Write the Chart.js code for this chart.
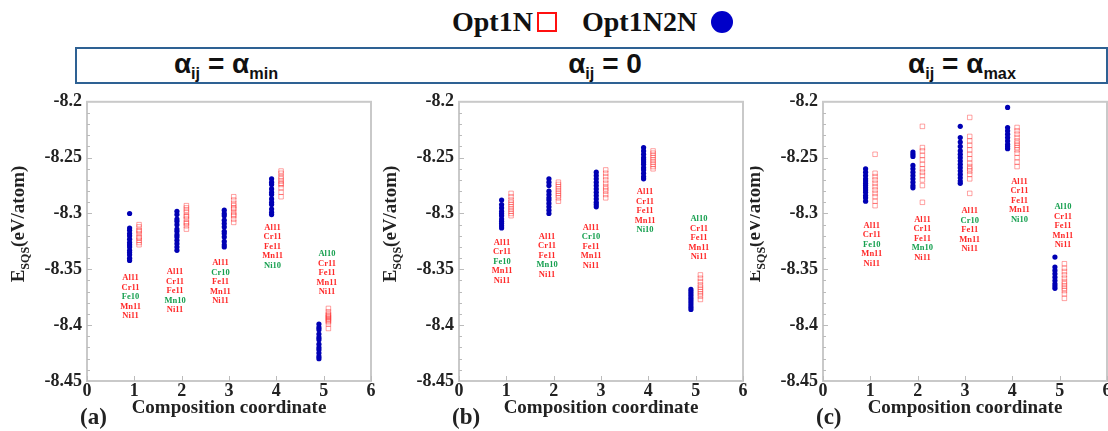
<!DOCTYPE html>
<html>
<head>
<meta charset="utf-8">
<title>E_SQS vs composition coordinate</title>
<script src="https://cdn.jsdelivr.net/npm/chart.js@4.4.0/dist/chart.umd.min.js"></script>
<style>
  body { margin: 0; width: 1108px; height: 431px; background: #fff; position: relative; overflow: hidden; }
  .leg { position: absolute; top: 6px; font: bold 28px "Liberation Serif", serif; line-height: 32px; color: #111; white-space: nowrap; }
  .leg-square { position: absolute; left: 537px; top: 12px; width: 16px; height: 16px; border: 2.5px solid #ff1010; }
  .leg-dot { position: absolute; left: 711px; top: 11px; width: 22px; height: 22px; border-radius: 50%; background: #0000c8; }
  .bar { position: absolute; left: 75px; top: 47px; width: 1029px; height: 33px; border: 2px solid #2e6193; }
  .htitle { position: absolute; top: 49px; transform: translateX(-50%); font: bold 28px "Liberation Sans", sans-serif; line-height: 30px; color: #111; white-space: nowrap; }
  .htitle sub { font-size: 0.58em; vertical-align: -0.34em; }
  .panel { position: absolute; top: 86px; height: 345px; }
</style>
</head>
<body>
<div class="leg" style="left:452px">Opt1N</div>
<div class="leg-square"></div>
<div class="leg" style="left:582px">Opt1N2N</div>
<div class="leg-dot"></div>
<div class="bar"></div>
<div class="htitle" style="left:226px">α<sub>ij</sub> = α<sub>min</sub></div>
<div class="htitle" style="left:605px">α<sub>ij</sub> = 0</div>
<div class="htitle" style="left:962px">α<sub>ij</sub> = α<sub>max</sub></div>

<div class="panel" style="left:0px;width:380px"><canvas id="panelA" width="380" height="345"></canvas></div>
<div class="panel" style="left:380px;width:370px"><canvas id="panelB" width="370" height="345"></canvas></div>
<div class="panel" style="left:750px;width:362px"><canvas id="panelC" width="362" height="345"></canvas></div>

<script>
// composition coordinates and axis ticks
const compositions = [1, 2, 3, 4, 5];
const yTickValues = [-8.45, -8.4, -8.35, -8.3, -8.25, -8.2];
const yTickLabels = ['-8.45', '-8.4', '-8.35', '-8.3', '-8.25', '-8.2'];
const xTickValues = [0, 1, 2, 3, 4, 5, 6];

// Opt1N2N points sit just left of each composition, Opt1N just right
const opt1N2NShift = -0.1;
const opt1NShift = 0.1;

// composition labels: element names, which one has 10 atoms per composition
const elements = ['Al', 'Cr', 'Fe', 'Mn', 'Ni'];
const reducedElement = [2, 3, 1, 4, 0];

// alpha_ij = alpha_min
const minOpt1N2N = [
  [-8.300, -8.313, -8.315, -8.318, -8.320, -8.323, -8.326, -8.328, -8.330, -8.333, -8.335, -8.337, -8.340, -8.342],
  [-8.298, -8.301, -8.305, -8.307, -8.310, -8.314, -8.316, -8.319, -8.321, -8.324, -8.327, -8.330, -8.333],
  [-8.297, -8.300, -8.302, -8.306, -8.309, -8.312, -8.316, -8.318, -8.321, -8.325, -8.328, -8.330],
  [-8.269, -8.272, -8.274, -8.278, -8.281, -8.283, -8.287, -8.290, -8.292, -8.296, -8.299, -8.301],
  [-8.399, -8.402, -8.404, -8.408, -8.411, -8.413, -8.417, -8.420, -8.422, -8.425, -8.428, -8.430]
];
const minOpt1N = [
  [-8.310, -8.312, -8.315, -8.316, -8.318, -8.321, -8.322, -8.324, -8.326, -8.328],
  [-8.293, -8.295, -8.297, -8.299, -8.302, -8.303, -8.305, -8.308, -8.309, -8.311, -8.314],
  [-8.285, -8.288, -8.291, -8.293, -8.295, -8.296, -8.299, -8.301, -8.302, -8.305, -8.308],
  [-8.262, -8.264, -8.267, -8.269, -8.271, -8.273, -8.274, -8.277, -8.281, -8.285],
  [-8.385, -8.388, -8.390, -8.391, -8.392, -8.393, -8.394, -8.395, -8.396, -8.397, -8.399, -8.403]
];
const minLabelX = [0.92, 1.86, 2.82, 3.92, 5.07];
const minLabelTop = [-8.3576, -8.3523, -8.3444, -8.3127, -8.3364];

// alpha_ij = 0
const zeroOpt1N2N = [
  [-8.288, -8.292, -8.295, -8.298, -8.300, -8.302, -8.305, -8.307, -8.309, -8.311, -8.313],
  [-8.269, -8.272, -8.275, -8.280, -8.283, -8.286, -8.288, -8.291, -8.294, -8.297, -8.300],
  [-8.263, -8.266, -8.269, -8.272, -8.275, -8.278, -8.281, -8.284, -8.287, -8.290, -8.292, -8.294],
  [-8.241, -8.244, -8.247, -8.250, -8.252, -8.254, -8.256, -8.259, -8.261, -8.264, -8.267, -8.269],
  [-8.368, -8.370, -8.372, -8.374, -8.376, -8.378, -8.380, -8.382, -8.384, -8.386]
];
const zeroOpt1N = [
  [-8.282, -8.285, -8.288, -8.290, -8.292, -8.294, -8.296, -8.298, -8.300, -8.302],
  [-8.272, -8.274, -8.276, -8.278, -8.280, -8.282, -8.284, -8.286, -8.289],
  [-8.261, -8.264, -8.267, -8.270, -8.273, -8.276, -8.278, -8.280, -8.283, -8.286],
  [-8.244, -8.246, -8.248, -8.250, -8.252, -8.254, -8.256, -8.258, -8.260],
  [-8.355, -8.358, -8.361, -8.364, -8.366, -8.368, -8.370, -8.372, -8.374, -8.377]
];
const zeroLabelX = [0.91, 1.86, 2.79, 3.93, 5.07];
const zeroLabelTop = [-8.3259, -8.3206, -8.3127, -8.2810, -8.3048];

// alpha_ij = alpha_max
const maxOpt1N2N = [
  [-8.260, -8.263, -8.266, -8.269, -8.271, -8.273, -8.275, -8.277, -8.279, -8.281, -8.284, -8.286, -8.289],
  [-8.245, -8.247, -8.249, -8.257, -8.260, -8.263, -8.266, -8.269, -8.272, -8.275, -8.277],
  [-8.222, -8.232, -8.236, -8.240, -8.244, -8.247, -8.250, -8.253, -8.256, -8.259, -8.262, -8.265, -8.268, -8.271, -8.273],
  [-8.205, -8.223, -8.226, -8.229, -8.232, -8.235, -8.238, -8.240, -8.242],
  [-8.339, -8.348, -8.351, -8.354, -8.357, -8.360, -8.363, -8.365, -8.367]
];
const maxOpt1N = [
  [-8.247, -8.264, -8.267, -8.270, -8.273, -8.276, -8.279, -8.282, -8.285, -8.289, -8.293],
  [-8.222, -8.241, -8.244, -8.248, -8.252, -8.256, -8.260, -8.263, -8.266, -8.270, -8.275, -8.290],
  [-8.214, -8.231, -8.235, -8.239, -8.243, -8.247, -8.251, -8.255, -8.258, -8.260, -8.262, -8.265, -8.269, -8.282],
  [-8.223, -8.226, -8.229, -8.232, -8.235, -8.237, -8.239, -8.241, -8.243, -8.246, -8.250, -8.254, -8.258],
  [-8.345, -8.349, -8.352, -8.355, -8.358, -8.361, -8.363, -8.365, -8.367, -8.369, -8.372, -8.376]
];
const maxLabelX = [1.03, 2.1, 3.1, 4.15, 5.07];
const maxLabelTop = [-8.3110, -8.3056, -8.2977, -8.2713, -8.2942];

const serif = '"Liberation Serif", "Times New Roman", serif';

// frame, minor ticks, composition labels and axis titles
const panelDecor = {
  id: 'panelDecor',
  afterDatasetsDraw(chart, args, opts) {
    const { ctx, chartArea: a, scales: { x, y } } = chart;
    ctx.save();
    ctx.strokeStyle = '#c9c9c9';
    ctx.lineWidth = 2;
    ctx.strokeRect(a.left, a.top, a.right - a.left, a.bottom - a.top);

    // small inward ticks on the left axis
    ctx.strokeStyle = '#bbbbbb';
    ctx.lineWidth = 1;
    for (let k = 1; k < 25; k++) {
      const py = Math.round(y.getPixelForValue(-8.45 + k * 0.01)) + 0.5;
      ctx.beginPath();
      ctx.moveTo(a.left, py);
      ctx.lineTo(a.left + (k % 5 === 0 ? 5 : 3), py);
      ctx.stroke();
    }
    xTickValues.forEach(v => {
      const px = Math.round(x.getPixelForValue(v)) + 0.5;
      ctx.beginPath();
      ctx.moveTo(px, a.bottom);
      ctx.lineTo(px, a.bottom - 5);
      ctx.stroke();
    });

    // element labels under each composition
    ctx.font = 'bold 8.5px ' + serif;
    ctx.textAlign = 'center';
    ctx.textBaseline = 'middle';
    compositions.forEach((c, i) => {
      const px = x.getPixelForValue(opts.labelX[i]);
      const py = y.getPixelForValue(opts.labelTop[i]);
      elements.forEach((el, r) => {
        const reduced = r === reducedElement[i];
        ctx.fillStyle = reduced ? '#17a050' : '#ff2a2a';
        ctx.fillText(el + (reduced ? '10' : '11'), px, py + r * 9.5);
      });
    });

    // x title and panel tag
    ctx.fillStyle = '#222';
    ctx.font = 'bold 19px ' + serif;
    ctx.fillText('Composition coordinate', (a.left + a.right) / 2, 322);
    ctx.textAlign = 'left';
    ctx.font = 'bold 23px ' + serif;
    ctx.fillText(opts.tag, a.left - 7, 332);

    // rotated y title with subscript
    ctx.translate(a.left - 68, 138);
    ctx.rotate(-Math.PI / 2);
    ctx.font = 'bold 19px ' + serif;
    const wE = ctx.measureText('E').width;
    const wRest = ctx.measureText('(eV/atom)').width;
    ctx.font = 'bold 12px ' + serif;
    const wSub = ctx.measureText('SQS').width;
    let tx = -(wE + wSub + wRest) / 2;
    ctx.textAlign = 'left';
    ctx.font = 'bold 19px ' + serif;
    ctx.fillText('E', tx, 0);
    tx += wE;
    ctx.font = 'bold 12px ' + serif;
    ctx.fillText('SQS', tx, 7);
    tx += wSub;
    ctx.font = 'bold 19px ' + serif;
    ctx.fillText('(eV/atom)', tx, 0);
    ctx.restore();
  }
};

function points(values, shift) {
  return compositions.flatMap((c, i) => values[i].map(v => ({ x: c + shift, y: v })));
}

function makePanel(id, blue, red, labelX, labelTop, tag, yAxisWidth, padRight) {
  new Chart(document.getElementById(id), {
    type: 'scatter',
    data: {
      datasets: [{
        label: 'Opt1N',
        data: points(red, opt1NShift),
        pointStyle: 'rect',
        pointRadius: 3.2,
        borderColor: 'rgba(255, 50, 50, 0.45)',
        backgroundColor: 'rgba(255, 255, 255, 0)',
        borderWidth: 1
      }, {
        label: 'Opt1N2N',
        data: points(blue, opt1N2NShift),
        pointRadius: 2.6,
        backgroundColor: '#0000b4',
        borderWidth: 0
      }]
    },
    options: {
      responsive: false,
      animation: false,
      devicePixelRatio: 1,
      layout: { padding: { left: 0, top: 11, right: padRight, bottom: 0 } },
      plugins: {
        legend: { display: false },
        tooltip: { enabled: false },
        panelDecor: { labelX: labelX, labelTop: labelTop, tag: tag }
      },
      scales: {
        x: {
          type: 'linear',
          min: 0,
          max: 6,
          afterBuildTicks: s => { s.ticks = xTickValues.map(v => ({ value: v })); },
          ticks: { font: { family: serif, weight: 'bold', size: 18 }, color: '#222', padding: 0, maxRotation: 0 },
          grid: { display: false, drawTicks: false },
          border: { display: false },
          afterFit: s => { s.height = 50; }
        },
        y: {
          min: -8.45,
          max: -8.2,
          afterBuildTicks: s => { s.ticks = yTickValues.map(v => ({ value: v })); },
          ticks: {
            font: { family: serif, weight: 'bold', size: 18 },
            color: '#222',
            padding: 5,
            callback: (v, i) => yTickLabels[i]
          },
          grid: { display: false, drawTicks: false },
          border: { display: false },
          afterFit: s => { s.width = yAxisWidth; }
        }
      }
    },
    plugins: [panelDecor]
  });
}

makePanel('panelA', minOpt1N2N, minOpt1N, minLabelX, minLabelTop, '(a)', 87, 9);
makePanel('panelB', zeroOpt1N2N, zeroOpt1N, zeroLabelX, zeroLabelTop, '(b)', 79, 7);
makePanel('panelC', maxOpt1N2N, maxOpt1N, maxLabelX, maxLabelTop, '(c)', 73, 5);
</script>
</body>
</html>
